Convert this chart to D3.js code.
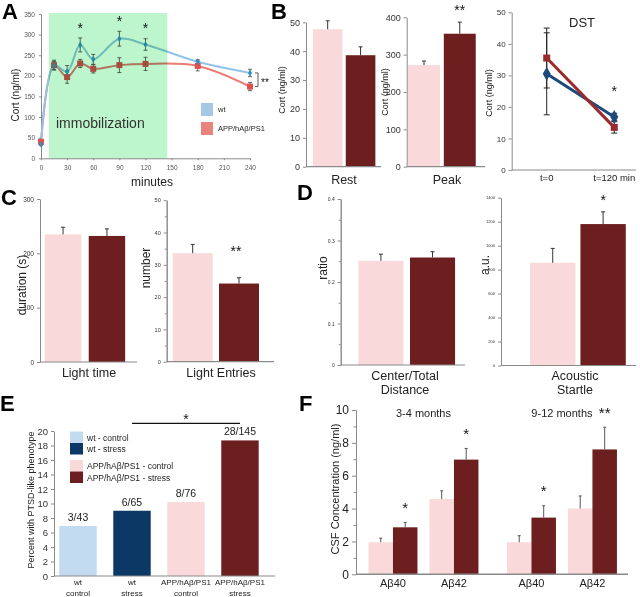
<!DOCTYPE html>
<html><head><meta charset="utf-8">
<script src="https://cdn.jsdelivr.net/npm/d3@7"></script>
<style>body{margin:0;background:#fff}svg{display:block}</style>
</head><body><svg id="c" width="640" height="597"></svg>
<script>
// ---------- DATA ----------
// Panel A: corticosterone time course
const timeMinutes = [0, 15, 30, 45, 60, 90, 120, 180, 240];
const wtCort      = [34, 225, 210, 275, 240, 290, 276, 234, 207];
const wtCortErr   = [3, 10, 15, 17, 12, 18, 14, 5, 9];
const appCort     = [40, 226, 197, 230, 217, 226, 229, 224, 174];
const appCortErr  = [6, 12, 15, 10, 10, 18, 16, 12, 10];
const immobilizationWindow = [9, 145];
const aStarTimes = [45, 90, 120];
const aYTicks = [0, 50, 100, 150, 200, 250, 300, 350];
const aXTicks = [0, 30, 60, 90, 120, 150, 180, 210, 240];
const genotypes = ["wt", "APP/hAβ/PS1"];
// Panel B
const restCort = [47.6, 38.6], restErr = [2.9, 2.9];
const peakCort = [272, 356],  peakErr = [11, 31];
const dstTimes = ["t=0", "t=120 min"];
const dstWt = [30.5, 16.8], dstWtErr = [13, 1.2];
const dstApp = [35.5, 13.5], dstAppErr = [9.5, 1.8];
// Panel C
const lightTime = [235, 232], lightTimeErr = [13, 13];
const lightEntries = [33.6, 24.2], lightEntriesErr = [2.7, 1.8];
// Panel D
const centerTotal = [0.251, 0.259], centerTotalErr = [0.016, 0.014];
const startle = [857, 1180], startleErr = [120, 102];
// Panel E
const ptsdGroups = ["wt - control", "wt - stress", "APP/hAβ/PS1 - control", "APP/hAβ/PS1 - stress"];
const ptsdLabels = [["wt", "control"], ["wt", "stress"], ["APP/hAβ/PS1", "control"], ["APP/hAβ/PS1", "stress"]];
const ptsdPercent = [6.9, 9.0, 10.2, 18.7];
const ptsdCounts = ["3/43", "6/65", "8/76", "28/145"];
// Panel F
const csfAges = ["3-4 months", "9-12 months"];
const csfPeptides = ["Aβ40", "Aβ42"];
const csfWt = [[1.95, 4.58], [1.95, 4.0]];
const csfWtErr = [[0.25, 0.5], [0.4, 0.77]];
const csfApp = [[2.86, 6.98], [3.45, 7.6]];
const csfAppErr = [[0.3, 0.68], [0.72, 1.35]];
const csfStars = [["*", "*"], ["*", "**"]];

// ---------- STYLE ----------
const FONT = '"Liberation Sans", Arial, sans-serif';
const PINK = "#f9d9da", DARK = "#6d1e1e", AXIS = "#8a8a8a", TXT = "#222";
const svg = d3.select("#c").attr("font-family", FONT);

function styleAxis(g, fs, col) {
  g.attr("font-family", FONT);
  g.select(".domain").attr("stroke", AXIS);
  g.selectAll(".tick line").attr("stroke", AXIS);
  g.selectAll(".tick text").attr("font-size", fs).attr("fill", col || "#333");
}
function txt(t, x, y, fs, opts = {}) {
  return svg.append("text").attr("x", x).attr("y", y).attr("font-size", fs)
    .attr("fill", opts.fill || TXT).attr("text-anchor", opts.anchor || "middle")
    .attr("font-weight", opts.bold ? "bold" : null).text(t);
}
function vlabel(t, x, y, fs) {
  svg.append("text").attr("transform", `translate(${x},${y}) rotate(-90)`)
    .attr("text-anchor", "middle").attr("dominant-baseline", "central")
    .attr("font-size", fs).attr("fill", TXT).text(t);
}
function star(t, x, cy, fs) { txt(t, x, cy + 0.55 * fs, fs, {fill: "#111"}); }
function panelLetter(t, x, y) { txt(t, x, y, 22, {anchor: "start", bold: true, fill: "#000"}); }
function errUp(g, x, y0, y1, cap, col) {
  g.append("line").attr("x1", x).attr("x2", x).attr("y1", y0).attr("y2", y1).attr("stroke", col || "#333").attr("stroke-width", 1);
  g.append("line").attr("x1", x - cap / 2).attr("x2", x + cap / 2).attr("y1", y1).attr("y2", y1).attr("stroke", col || "#333").attr("stroke-width", 1);
}

// ---------- PANEL A ----------
(function () {
  const x = d3.scaleLinear().domain([0, 240]).range([41, 250]);
  const y = d3.scaleLinear().domain([0, 350]).range([158.3, 14]);
  const g = svg.append("g");
  g.append("g").attr("transform", `translate(${x(0)},0)`)
    .call(d3.axisLeft(y).tickValues(aYTicks).tickSize(2).tickSizeOuter(0).tickPadding(4))
    .call(styleAxis, 6.5, "#555");
  g.append("g").attr("transform", `translate(0,${y(0)})`)
    .call(d3.axisBottom(x).tickValues(aXTicks).tickSize(2).tickSizeOuter(0).tickPadding(5))
    .call(styleAxis, 6.5, "#555");
  const line = d3.line().x((d, i) => x(timeMinutes[i])).y(d => y(d)).curve(d3.curveCatmullRom.alpha(0.5));
  g.append("path").attr("d", line(appCort)).attr("fill", "none").attr("stroke", "#ec7b73").attr("stroke-width", 2);
  g.append("path").attr("d", line(wtCort)).attr("fill", "none").attr("stroke", "#92c3e8").attr("stroke-width", 2);
  [[appCort, appCortErr], [wtCort, wtCortErr]].forEach(([v, e]) => {
    v.forEach((d, i) => {
      const xx = x(timeMinutes[i]);
      g.append("line").attr("x1", xx).attr("x2", xx).attr("y1", y(d - e[i])).attr("y2", y(d + e[i])).attr("stroke", "#444").attr("stroke-width", 0.8);
      [d - e[i], d + e[i]].forEach(b => g.append("line").attr("x1", xx - 2).attr("x2", xx + 2).attr("y1", y(b)).attr("y2", y(b)).attr("stroke", "#444").attr("stroke-width", 0.8));
    });
  });
  g.selectAll(".appm").data(appCort).join("rect").attr("class", "appm")
    .attr("x", (d, i) => x(timeMinutes[i]) - 3).attr("y", d => y(d) - 3).attr("width", 6).attr("height", 6).attr("fill", "#e0504c");
  g.selectAll(".wtm").data(wtCort).join("path").attr("class", "wtm")
    .attr("transform", (d, i) => `translate(${x(timeMinutes[i])},${y(d)})`)
    .attr("d", d3.symbol(d3.symbolDiamond, 14)).attr("fill", "#3b8cc4");
  // immobilization window (multiply overlay)
  g.append("rect").attr("x", x(immobilizationWindow[0])).attr("width", x(immobilizationWindow[1]) - x(immobilizationWindow[0]))
    .attr("y", y(350) - 1).attr("height", y(0) - y(350) + 1).attr("fill", "#bdf5cc").style("mix-blend-mode", "multiply");
  txt("immobilization", 56, 128, 14, {anchor: "start", fill: "#333"});
  aStarTimes.forEach(t => {
    const i = timeMinutes.indexOf(t);
    star("*", x(t), y(wtCort[i] + wtCortErr[i]) - 13, 14);
  });
  // significance bracket at 240
  const last = timeMinutes.length - 1;
  const bx = x(240) + 8;
  g.append("path").attr("d", `M${bx - 3},${y(wtCort[last])} H${bx} V${y(appCort[last])} H${bx - 3}`).attr("fill", "none").attr("stroke", "#333").attr("stroke-width", 0.8);
  txt("**", bx + 3, y((wtCort[last] + appCort[last]) / 2) + 6, 10, {anchor: "start", fill: "#111"});
  // legend
  const lg = [["wt", "#a7c7e7"], ["APP/hAβ/PS1", "#ea837c"]];
  lg.forEach(([t, c], i) => {
    g.append("rect").attr("x", 201).attr("y", 103 + i * 19).attr("width", 12).attr("height", 13).attr("fill", c);
    txt(t, 218, 112 + i * 19, 7.5, {anchor: "start"});
  });
  vlabel("Cort (ng/ml)", 15, 95, 10);
  txt("minutes", 152, 186, 12);
  panelLetter("A", 2, 19);
})();

// ---------- GENERIC BAR PANEL ----------
function barPanel(o) {
  const x = d3.scaleBand().domain(genotypes).range(o.xr).paddingInner(o.pi).paddingOuter(o.po).align(o.al);
  const y = d3.scaleLinear().domain(o.yd).range(o.yr);
  const g = svg.append("g");
  g.selectAll("rect").data(o.vals).join("rect")
    .attr("x", (d, i) => x(genotypes[i])).attr("width", x.bandwidth())
    .attr("y", d => y(d)).attr("height", d => y(0) - y(d)).attr("fill", (d, i) => [PINK, DARK][i]);
  o.vals.forEach((d, i) => errUp(g, x(genotypes[i]) + x.bandwidth() / 2, y(d), y(d + o.errs[i]), 4, "#333"));
  if (o.minor) g.append("g").attr("transform", `translate(${o.xr[0]},0)`)
    .call(d3.axisLeft(y).tickValues(o.minor).tickFormat("").tickSize(2).tickSizeOuter(0)).call(styleAxis, 1);
  g.append("g").attr("transform", `translate(${o.xr[0]},0)`)
    .call(d3.axisLeft(y).tickValues(o.ticks).tickFormat(o.fmt || (d => d)).tickSize(3).tickSizeOuter(0).tickPadding(o.tp || 3))
    .call(styleAxis, o.fs, "#333");
  g.append("line").attr("x1", o.xr[0]).attr("x2", o.xr[1]).attr("y1", y(0)).attr("y2", y(0)).attr("stroke", AXIS).attr("stroke-width", 1.2);
  (o.cat || []).forEach((t, i) => txt(t, o.catX, o.catY + i * 13.5, 12.5));
  if (o.ylab) vlabel(o.ylab[0], o.ylab[1], o.ylab[2], o.ylab[3]);
  if (o.star) star(o.star, x(genotypes[1]) + x.bandwidth() / 2 + (o.starDx || 0), y(o.vals[1] + o.errs[1]) - o.starOff, 14);
  return {x, y, g};
}

// ---------- PANEL B ----------
barPanel({xr: [306, 381], pi: 0.1, po: 0.19, al: 0.55, yd: [0, 50], yr: [166.7, 22.3],
  ticks: [0, 10, 20, 30, 40, 50], fs: 9, vals: restCort, errs: restErr,
  cat: ["Rest"], catX: 344, catY: 184, ylab: ["Cort (ng/ml)", 282, 90, 9]});
barPanel({xr: [406.7, 485], pi: 0.107, po: 0.148, al: 0.126, yd: [0, 400], yr: [166.7, 17.3],
  ticks: [0, 100, 200, 300, 400], fs: 9, vals: peakCort, errs: peakErr,
  cat: ["Peak"], catX: 447, catY: 184, ylab: ["Cort (ng/ml)", 385, 92, 9], star: "**", starOff: 15});
(function () {
  const x = d3.scalePoint().domain(dstTimes).range([511.7, 636]).padding(0.42).align(0.617);
  const y = d3.scaleLinear().domain([0, 50]).range([170, 12.3]);
  const g = svg.append("g");
  g.append("g").attr("transform", `translate(${x.range()[0]},0)`)
    .call(d3.axisLeft(y).tickValues([0, 10, 20, 30, 40, 50]).tickSize(3).tickSizeOuter(0).tickPadding(3))
    .call(styleAxis, 8, "#333");
  g.append("line").attr("x1", 511.7).attr("x2", 636).attr("y1", y(0)).attr("y2", y(0)).attr("stroke", AXIS).attr("stroke-width", 1.2);
  dstTimes.forEach(t => txt(t, x(t), 181, 9.5));
  const line = d3.line().x((d, i) => x(dstTimes[i])).y(d => y(d));
  [[dstWt, dstWtErr], [dstApp, dstAppErr]].forEach(([v, e]) => v.forEach((d, i) => {
    const xx = x(dstTimes[i]);
    g.append("line").attr("x1", xx).attr("x2", xx).attr("y1", y(d - e[i])).attr("y2", y(d + e[i])).attr("stroke", "#222");
    [d - e[i], d + e[i]].forEach(b => g.append("line").attr("x1", xx - 3).attr("x2", xx + 3).attr("y1", y(b)).attr("y2", y(b)).attr("stroke", "#222"));
  }));
  g.append("path").attr("d", line(dstWt)).attr("fill", "none").attr("stroke", "#1d4a7c").attr("stroke-width", 3);
  g.append("path").attr("d", line(dstApp)).attr("fill", "none").attr("stroke", "#9b2a2c").attr("stroke-width", 3);
  g.selectAll(".dm").data(dstWt).join("path").attr("class", "dm")
    .attr("transform", (d, i) => `translate(${x(dstTimes[i])},${y(d)})`).attr("d", d3.symbol(d3.symbolDiamond, 55)).attr("fill", "#1d4a7c");
  g.selectAll(".sm").data(dstApp).join("rect").attr("class", "sm")
    .attr("x", (d, i) => x(dstTimes[i]) - 3.5).attr("y", d => y(d) - 3.5).attr("width", 7).attr("height", 7).attr("fill", "#9b2a2c");
  star("*", x(dstTimes[1]), 88, 14);
  txt("DST", 582, 27, 13);
  vlabel("Cort (ng/ml)", 489, 93, 9);
})();
panelLetter("B", 271, 19);

// ---------- PANEL C ----------
barPanel({xr: [40, 137], pi: 0.17, po: 0.19, al: 0.29, yd: [0, 300], yr: [362, 199],
  ticks: [0, 100, 200, 300], fs: 6.5, vals: lightTime, errs: lightTimeErr,
  cat: ["Light time"], catX: 89, catY: 377, ylab: ["duration (s)", 22, 285, 12]});
barPanel({xr: [166.7, 274], pi: 0.136, po: 0.227, al: 0.286, yd: [0, 50], yr: [361.7, 200.2],
  ticks: [0, 10, 20, 30, 40, 50], minor: [5, 15, 25, 35, 45], fs: 5.5, vals: lightEntries, errs: lightEntriesErr,
  cat: ["Light Entries"], catX: 221, catY: 377, ylab: ["number", 146, 268, 12], star: "**", starOff: 29, starDx: -3});
panelLetter("C", 1, 205);

// ---------- PANEL D ----------
barPanel({xr: [340.7, 465], pi: 0.128, po: 0.267, al: 0.64, yd: [0, 0.4], yr: [365, 199],
  ticks: [0, 0.1, 0.2, 0.3, 0.4], minor: [0.05, 0.15, 0.25, 0.35], fs: 5, fmt: d => d, vals: centerTotal, errs: centerTotalErr,
  cat: ["Center/Total", "Distance"], catX: 405, catY: 380, ylab: ["ratio", 323, 268, 12]});
barPanel({xr: [501, 636], pi: 0.1, po: 0.39, al: 0.74, yd: [0, 1400], yr: [365.5, 197.7],
  ticks: [0, 200, 400, 600, 800, 1000, 1200, 1400], fs: 4, vals: startle, errs: startleErr,
  cat: ["Acoustic", "Startle"], catX: 575, catY: 380, ylab: ["a.u.", 485, 265, 12], star: "*", starOff: 15});
panelLetter("D", 297, 200);

// ---------- PANEL E ----------
(function () {
  const x = d3.scaleBand().domain(ptsdGroups).range([54, 275]).paddingInner(0.307).paddingOuter(0.2).align(0.245);
  const y = d3.scaleLinear().domain([0, 20]).range([576, 431]);
  const cols = ["#c3dbf0", "#0c3866", PINK, DARK];
  const g = svg.append("g");
  g.selectAll("rect.bar").data(ptsdPercent).join("rect").attr("class", "bar")
    .attr("x", (d, i) => x(ptsdGroups[i])).attr("width", x.bandwidth())
    .attr("y", d => y(d)).attr("height", d => y(0) - y(d)).attr("fill", (d, i) => cols[i]);
  ptsdPercent.forEach((d, i) => txt(ptsdCounts[i], x(ptsdGroups[i]) + x.bandwidth() / 2, y(d) - 5, 10.5));
  g.append("g").attr("transform", `translate(54,0)`)
    .call(d3.axisLeft(y).tickValues(d3.range(0, 21, 2)).tickSize(3).tickSizeOuter(0).tickPadding(3))
    .call(styleAxis, 9.5, "#333");
  g.append("line").attr("x1", 54).attr("x2", 275).attr("y1", y(0)).attr("y2", y(0)).attr("stroke", AXIS).attr("stroke-width", 1.2);
  ptsdLabels.forEach((ls, i) => ls.forEach((t, j) => txt(t, x(ptsdGroups[i]) + x.bandwidth() / 2, 584.5 + j * 11, 8)));
  // legend
  const ly = [431.5, 443, 460, 471.5];
  ptsdGroups.forEach((t, i) => {
    g.append("rect").attr("x", 70).attr("y", ly[i]).attr("width", 13).attr("height", 11.5).attr("fill", cols[i]);
    txt(t, 87, ly[i] + 9, 8.5, {anchor: "start"});
  });
  // significance line
  const x1 = x(ptsdGroups[1]) + x.bandwidth() / 2, x2 = x(ptsdGroups[3]) + x.bandwidth() / 2;
  g.append("line").attr("x1", x1).attr("x2", x2).attr("y1", 423.3).attr("y2", 423.3).attr("stroke", "#111").attr("stroke-width", 1.2);
  star("*", (x1 + x2) / 2, 416, 14);
  vlabel("Percent with PTSD-like phenotype", 31, 500, 9);
})();
panelLetter("E", 0, 411);

// ---------- PANEL F ----------
(function () {
  const x0 = d3.scaleBand().domain(csfAges).range([356, 628]).paddingInner(0.206).paddingOuter(0.085).align(0.53);
  const x1 = d3.scaleBand().domain(csfPeptides).range([0, x0.bandwidth()]).paddingInner(0.197);
  const x2 = d3.scaleBand().domain(genotypes).range([0, x1.bandwidth()]);
  const y = d3.scaleLinear().domain([0, 10]).range([574.3, 410]);
  const g = svg.append("g");
  g.append("g").attr("transform", `translate(356,0)`)
    .call(d3.axisLeft(y).tickValues([1, 3, 5, 7, 9]).tickFormat("").tickSize(2.5).tickSizeOuter(0)).call(styleAxis, 1);
  g.append("g").attr("transform", `translate(356,0)`)
    .call(d3.axisLeft(y).tickValues([0, 2, 4, 6, 8, 10]).tickSize(4).tickSizeOuter(0).tickPadding(3))
    .call(styleAxis, 12, "#222");
  csfAges.forEach((age, a) => {
    const gx = x0(age);
    txt(age, gx + x0.bandwidth() / 2, 417, 11);
    csfPeptides.forEach((p, k) => {
      const px = gx + x1(p);
      [[csfWt, csfWtErr, PINK], [csfApp, csfAppErr, DARK]].forEach(([v, e, c], gi) => {
        const val = v[a][k];
        const bx = px + x2(genotypes[gi]);
        g.append("rect").attr("x", bx).attr("width", x2.bandwidth()).attr("y", y(val)).attr("height", y(0) - y(val)).attr("fill", c);
        errUp(g, bx + x2.bandwidth() / 2, y(val), y(val + e[a][k]), 3, "#555");
      });
      txt(p, px + x1.bandwidth() / 2, 587, 11);
      star(csfStars[a][k], px + x2(genotypes[1]) + x2.bandwidth() / 2, y(csfApp[a][k] + csfAppErr[a][k]) - 18, 15);
    });
  });
  g.append("line").attr("x1", 356).attr("x2", 628).attr("y1", y(0)).attr("y2", y(0)).attr("stroke", AXIS).attr("stroke-width", 1.5);
  vlabel("CSF Concentration (ng/ml)", 335, 489, 11);
})();
panelLetter("F", 299, 411);
</script></body></html>
